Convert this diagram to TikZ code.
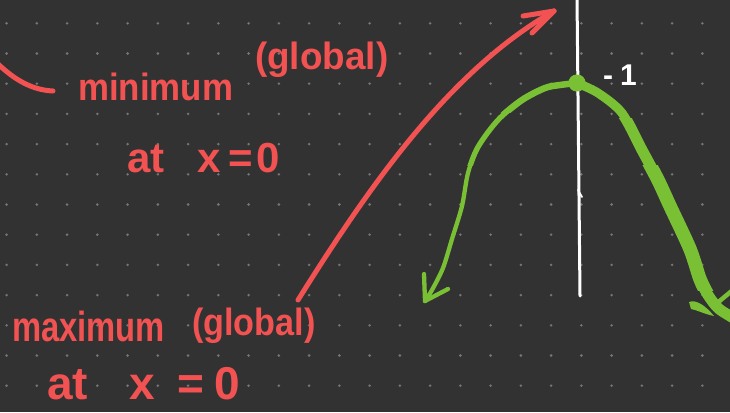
\documentclass[tikz,border=0pt]{standalone}
\usepackage{fontspec}
\setmainfont{Liberation Sans}
\definecolor{bgc}{RGB}{50,50,50}
\definecolor{dotc}{RGB}{118,118,118}
\definecolor{hred}{RGB}{242,82,82}
\definecolor{hgreen}{RGB}{122,192,52}
\begin{document}
\begin{tikzpicture}[x=1pt,y=-1pt,
  redink/.style={draw=hred,line width=5pt,line cap=round,line join=round},
  greenink/.style={draw=hgreen,line cap=round,line join=round},
  whiteink/.style={draw=white,line cap=round,line join=round},
  redtxt/.style={text=hred,inner sep=0pt,anchor=base west},
  fs/.style={font=\fontsize{#1}{#1}\selectfont\bfseries}]
\useasboundingbox (0,0) rectangle (730,412);
\clip (0,0) rectangle (730,412);
\fill[bgc] (0,0) rectangle (730,412);
% dot grid
\foreach \i in {0,...,23}{\foreach \j in {0,...,12}{
  \fill[dotc] ({6.6+30.25*\i},{23.3+30.2*\j}) circle (1.4);}}
% texts
\node[redtxt,fs=38,xscale=0.917] (minw) at (78,100) {minimum};
\node[redtxt,fs=38,xscale=0.97] (ming) at (255,70) {(global)};
\node[redtxt,fs=42] (minat) at (127,172) {at\hspace{21pt} x\hspace{8pt}=\hspace{3pt}0};
\node[redtxt,fs=42,xscale=0.78] (maxw) at (12,341) {maximum};
\node[redtxt,fs=38,xscale=0.9] (maxg) at (192,335) {(global)};
\node[redtxt,fs=46] (maxat) at (47,399) {at\hspace{29pt} x\hspace{9pt} =\hspace{-2pt} 0};
\node[text=white,inner sep=0pt,anchor=base west,fs=30] (neg) at (603,85) {-\hspace{7pt}1};
% red strokes
\coordinate (tl0) at (-2,64);
\coordinate (tl1) at (53,91);
\draw[redink] (tl0) .. controls (15,80) and (32,90) .. (tl1);
\coordinate (arrS) at (298,300);
\coordinate (arrT) at (554,11);
\draw[redink] (arrS) .. controls (370,185) and (450,70) .. (arrT);
\draw[redink] (arrT) -- ++(-31,5);
\draw[redink] (arrT) -- ++(-22,22);
% green parabola
\node[circle,fill=hgreen,minimum size=17pt,inner sep=0pt] (peak) at (577,83) {};
\coordinate (ltip) at (425,301);
\coordinate (rtip) at (742,323);
\tikzset{
  lbranch/.style={insert path={plot[smooth] coordinates {(peak.center) (560,85) (545,88) (522,100) (498,120) (478,147) (468,173) (462,206) (452,239) (443,268) (432,290) (ltip)}}},
  rbranch/.style={insert path={plot[smooth] coordinates {(peak.center) (598,93) (622,113) (642,150) (658,180) (670,206) (690,249) (700,279) (708,295) (718,308) (730,316) (rtip)}}}}
\draw[greenink,line width=4.3pt,lbranch];
\begin{scope}\clip (455,0) rectangle (600,165);
  \draw[greenink,line width=5.3pt,lbranch];\end{scope}
\begin{scope}\clip (490,0) rectangle (600,112);
  \draw[greenink,line width=6.5pt,lbranch];\end{scope}
\draw[greenink,line width=4.3pt] (ltip) -- ++(-1,-27);
\draw[greenink,line width=4.3pt] (ltip) -- ++(23,-12);
\draw[greenink,line width=9pt,rbranch];
\begin{scope}\clip (560,118) rectangle (730,412);
  \draw[greenink,line width=11pt,rbranch];\end{scope}
\begin{scope}\clip (560,165) rectangle (730,290);
  \draw[greenink,line width=13.5pt,rbranch];\end{scope}
\draw[greenink,line width=4.5pt] (716,304) -- (734,289);
\fill[hgreen] (689,302) .. controls (696,299) and (706,306) .. (714,316)
  .. controls (704,314) and (697,310) .. (691,309) -- cycle;
% white axis
\coordinate (axT) at (577,-3);
\coordinate (axB) at (580,296);
\draw[whiteink,line width=3pt] (axT) -- (axB);
\draw[whiteink,line width=1.8pt] (578,190) -- (582,197);
\node[circle,fill=hgreen,minimum size=17pt,inner sep=0pt] at (peak) {};
\end{tikzpicture}
\end{document}
